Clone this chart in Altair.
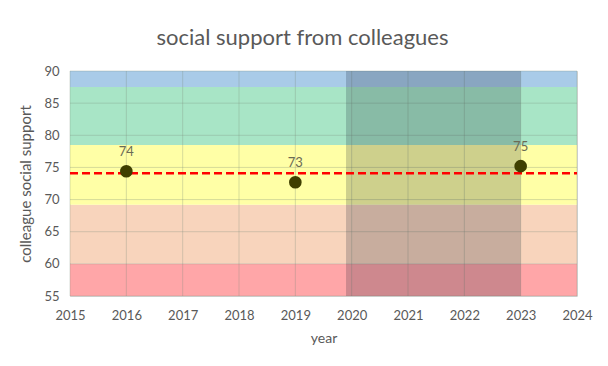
import altair as alt
import pandas as pd

# Survey results
years = [2016, 2019, 2023]
scores = [74.4, 72.7, 75.2]

# Rating bands (lower, upper, colour)
band_lo = [55, 60, 69.2, 78.5, 87.5]
band_hi = [60, 69.2, 78.5, 87.5, 90]
band_colors = ["#ffa6a8", "#f8d4bc", "#ffffa6", "#a8e5c6", "#a9cbe8"]

# Highlighted period
period_start = [2019.9]
period_end = [2023.0]

# Axis ticks
x_ticks = [2015, 2016, 2017, 2018, 2019, 2020, 2021, 2022, 2023, 2024]
y_ticks = [55, 60, 65, 70, 75, 80, 85, 90]

x_min, x_max = 2015, 2024
y_min, y_max = 55, 90

points = pd.DataFrame({"year": years, "score": scores})
bands = pd.DataFrame({"lo": band_lo, "hi": band_hi, "color": band_colors,
                      "x0": [x_min] * 5, "x1": [x_max] * 5})
period = pd.DataFrame({"start": period_start, "end": period_end})

xs = alt.Scale(domain=[x_min, x_max], nice=False, zero=False)
ys = alt.Scale(domain=[y_min, y_max], nice=False, zero=False)

# one axis definition shared by every layer
x_axis = alt.Axis(values=x_ticks, format="d", title="year", grid=False,
                  ticks=False, domain=False, labelPadding=13, titlePadding=9,
                  labelFlush=False, labelOverlap=False, titleFontSize=14)
y_axis = alt.Axis(values=y_ticks, title="colleague social support", grid=False,
                  ticks=False, domain=False, labelPadding=11, titlePadding=10,
                  labelFlush=False, labelOverlap=False, titleFontSize=15)

band_layer = alt.Chart(bands).mark_rect(opacity=1).encode(
    x=alt.X("x0:Q", scale=xs, axis=x_axis),
    x2="x1:Q",
    y=alt.Y("lo:Q", scale=ys, axis=y_axis),
    y2="hi:Q",
    color=alt.Color("color:N", scale=None),
)

# grid lines drawn over the bands
grid_x = alt.Chart(pd.DataFrame({"g": x_ticks})).mark_rule(
    color="#7a8a7a", opacity=0.3, strokeWidth=1).encode(
    x=alt.X("g:Q", scale=xs, axis=x_axis))
grid_y = alt.Chart(pd.DataFrame({"g": y_ticks})).mark_rule(
    color="#7a8a7a", opacity=0.3, strokeWidth=1).encode(
    y=alt.Y("g:Q", scale=ys, axis=y_axis))

period_layer = alt.Chart(period).mark_rect(color="#0a1428", opacity=0.2).encode(
    x=alt.X("start:Q", scale=xs, axis=x_axis), x2="end:Q",
    y=alt.value(0), y2=alt.value(225),
)

mean_line = alt.Chart(points).mark_rule(
    color="#ff0000", strokeWidth=2.5, strokeDash=[8, 4]).encode(
    y=alt.Y("mean(score):Q", scale=ys, axis=y_axis),
    x=alt.value(0), x2=alt.value(507),
)

dots = alt.Chart(points).mark_circle(size=160, color="#3f3f00", opacity=1).encode(
    x=alt.X("year:Q", scale=xs, axis=x_axis),
    y=alt.Y("score:Q", scale=ys, axis=y_axis))

labels = alt.Chart(points).mark_text(
    dy=-19, fontSize=13, font="Lato", color="#6b6b55").encode(
    x=alt.X("year:Q", scale=xs, axis=x_axis),
    y=alt.Y("score:Q", scale=ys, axis=y_axis),
    text=alt.Text("score:Q", format=".0f"))

chart = alt.layer(band_layer, grid_x, grid_y, period_layer, mean_line, dots, labels).properties(
    width=507, height=225,
    title=alt.TitleParams("social support from colleagues", fontSize=22,
                          font="Lato", fontWeight="normal", color="#595959",
                          dx=-21, offset=15),
    autosize=alt.AutoSizeParams(type="none"),
    padding={"left": 70, "top": 71, "right": 31, "bottom": 70},
).configure(background="white").configure_view(
    stroke="#d9d9d9", strokeWidth=1
).configure_axis(
    labelFont="Lato", titleFont="Lato", labelFontSize=13,
    labelColor="#595959", titleColor="#595959", titleFontWeight="normal",
)

chart.save("out.html", embed_options={"renderer": "svg", "actions": False})
